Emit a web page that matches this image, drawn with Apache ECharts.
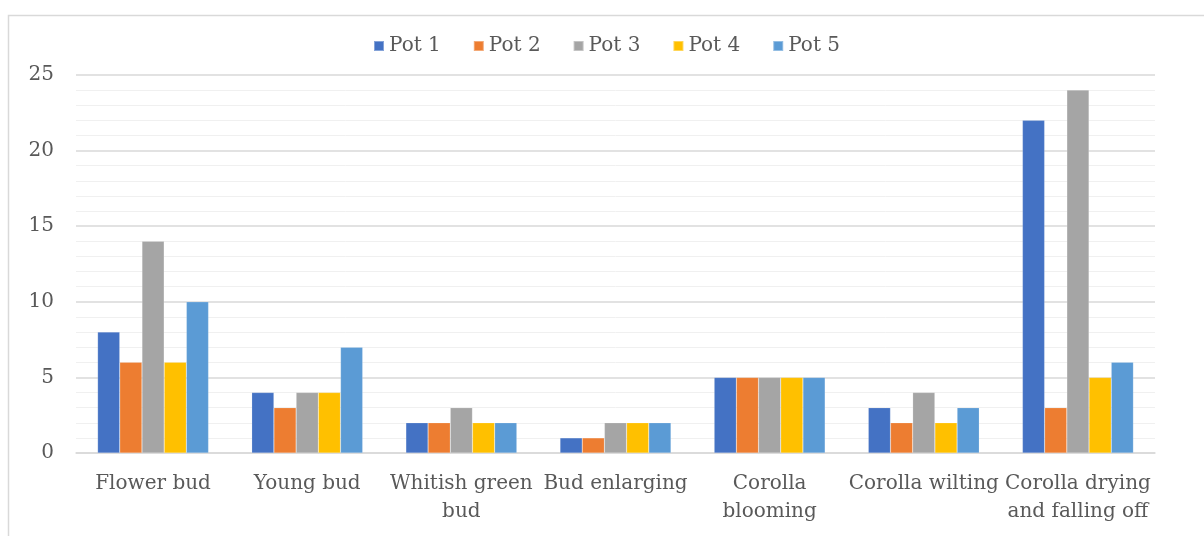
<!DOCTYPE html>
<html>
<head>
<meta charset="utf-8">
<script src="https://cdn.jsdelivr.net/npm/echarts@6/dist/echarts.min.js"></script>
<style>
html,body{margin:0;padding:0;background:#fff;}
#chart{width:1204px;height:536px;}
</style>
</head>
<body>
<div id="chart"></div>
<script>
const categories = ["Flower bud", "Young bud", "Whitish green\nbud", "Bud enlarging", "Corolla\nblooming", "Corolla wilting", "Corolla drying\nand falling off"];
const seriesNames = ["Pot 1", "Pot 2", "Pot 3", "Pot 4", "Pot 5"];
const pot1 = [8, 4, 2, 1, 5, 3, 22];
const pot2 = [6, 3, 2, 1, 5, 2, 3];
const pot3 = [14, 4, 3, 2, 5, 4, 24];
const pot4 = [6, 4, 2, 2, 5, 2, 5];
const pot5 = [10, 7, 2, 2, 5, 3, 6];
const colors = ["#4472C4", "#ED7D31", "#A5A5A5", "#FFC000", "#5B9BD5"];

const values = [pot1, pot2, pot3, pot4, pot5];
const FONT = "DejaVu Serif";

const chart = echarts.init(document.getElementById('chart'), null, {renderer: 'canvas'});
chart.setOption({
  animation: false,
  backgroundColor: '#ffffff',
  color: colors,
  textStyle: {fontFamily: FONT},
  graphic: [{
    type: 'rect',
    left: 6, top: 13,
    shape: {x: 0, y: 0, width: 1220, height: 540},
    style: {fill: 'none', stroke: '#d9d9d9', lineWidth: 1.5},
    silent: true, z: -10
  }],
  legend: {
    top: 31,
    left: 368,
    itemWidth: 10,
    itemHeight: 10,
    itemGap: 32,
    icon: 'rect',
    textStyle: {fontFamily: FONT, fontSize: 20, color: '#595959'},
    data: seriesNames
  },
  grid: {left: 76, right: 49, top: 75, bottom: 83, containLabel: false},
  xAxis: {
    type: 'category',
    data: categories,
    axisTick: {show: false},
    axisLine: {lineStyle: {color: '#d9d9d9', width: 1.5}},
    axisLabel: {fontFamily: FONT, fontSize: 20, color: '#595959', margin: 17, lineHeight: 28, interval: 0}
  },
  yAxis: {
    type: 'value',
    min: 0, max: 25, interval: 5,
    axisLine: {show: false},
    axisTick: {show: false},
    axisLabel: {fontFamily: FONT, fontSize: 20, color: '#595959', margin: 22},
    splitLine: {lineStyle: {color: '#d9d9d9', width: 1.5}},
    minorTick: {show: false, splitNumber: 5},
    minorSplitLine: {show: true, lineStyle: {color: '#f0f0f0', width: 1}}
  },
  series: seriesNames.map((n, i) => ({
    name: n,
    type: 'bar',
    data: values[i],
    barGap: '0%',
    barCategoryGap: '28%',
    itemStyle: {color: colors[i], borderColor: 'rgba(255,255,255,0.35)', borderWidth: 0.5}
  }))
});
</script>
</body>
</html>
